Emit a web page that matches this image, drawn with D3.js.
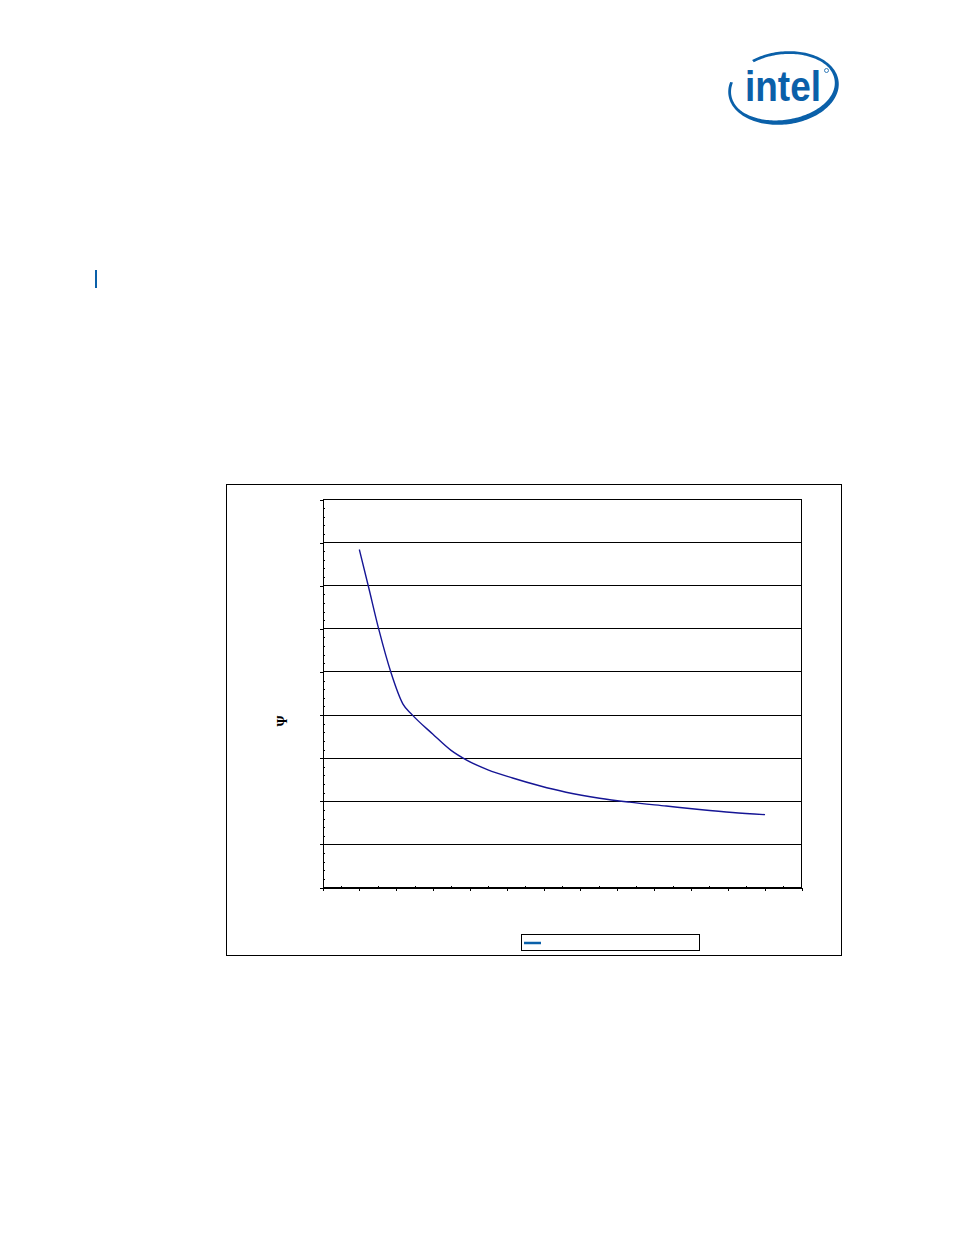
<!DOCTYPE html>
<html>
<head>
<meta charset="utf-8">
<script src="https://cdn.jsdelivr.net/npm/d3@7/dist/d3.min.js"></script>
<style>
  html, body { margin: 0; padding: 0; background: #ffffff; }
  svg { display: block; }
</style>
</head>
<body>
<svg id="page" width="954" height="1235"></svg>
<script>
// ---- data ----
const airflow = [1.00, 1.25, 1.53, 1.86, 2.18, 2.43, 2.99, 3.49, 3.90, 4.49, 5.16, 5.89, 6.61, 7.52, 8.33, 9.33, 10.23, 11.13, 12.01];
const psiValues = [0.784, 0.697, 0.598, 0.498, 0.426, 0.401, 0.356, 0.318, 0.296, 0.273, 0.254, 0.236, 0.221, 0.207, 0.198, 0.189, 0.181, 0.174, 0.169];
const xMajorTicks = [0,1,2,3,4,5,6,7,8,9,10,11,12,13];
const xMinorTicks = [0.5,1.5,2.5,3.5,4.5,5.5,6.5,7.5,8.5,9.5,10.5,11.5,12.5];
const yMajorTicks = [0,0.1,0.2,0.3,0.4,0.5,0.6,0.7,0.8,0.9];
const yMinorTicks = [0.02,0.04,0.06,0.08,0.12,0.14,0.16,0.18,0.22,0.24,0.26,0.28,0.32,0.34,0.36,0.38,0.42,0.44,0.46,0.48,0.52,0.54,0.56,0.58,0.62,0.64,0.66,0.68,0.72,0.74,0.76,0.78,0.82,0.84,0.86,0.88];
const yAxisTitle = "Ψ";

const svg = d3.select("#page");
const BLUE = "#0a60a9";

// ---- Intel logo ----
(function logo() {
  const g = svg.append("g").attr("transform", "rotate(-7 783.5 88)");
  const cx = 783.5, cy = 88;
  const a0 = 240, a1 = 560;
  const pts = [];
  for (let a = a0; a <= a1; a += 2) {
    const t = a * Math.PI / 180;
    pts.push([cx + 55.5 * Math.cos(t), cy + 36.5 * Math.sin(t)]);
  }
  const inner = [];
  for (let a = a1; a >= a0; a -= 2) {
    const t = a * Math.PI / 180;
    const th = 2.8 + 2.2 * Math.max(0, Math.sin(t + 0.5));
    inner.push([cx + (55.5 - th) * Math.cos(t), cy + (36.5 - th) * Math.sin(t)]);
  }
  g.append("path")
    .attr("d", d3.line()(pts.concat(inner)) + "Z")
    .attr("fill", BLUE);
  svg.append("text")
    .attr("x", 745).attr("y", 101)
    .attr("textLength", 76).attr("lengthAdjust", "spacingAndGlyphs")
    .attr("font-family", "'Liberation Sans', Arial, sans-serif")
    .attr("font-weight", "bold").attr("font-size", 42)
    .attr("fill", BLUE).text("intel");
  svg.append("circle").attr("cx", 826.5).attr("cy", 70.5).attr("r", 2)
    .attr("fill", "none").attr("stroke", BLUE).attr("stroke-width", 0.8);
})();

// ---- small blue margin bar ----
svg.append("rect").attr("x", 95).attr("y", 270).attr("width", 2).attr("height", 18).attr("fill", BLUE);

// ---- chart frame ----
svg.append("rect")
  .attr("x", 226.5).attr("y", 484.5).attr("width", 615).attr("height", 471)
  .attr("fill", "#fff").attr("stroke", "#000").attr("stroke-width", 1)
  .attr("shape-rendering", "crispEdges");

const x = d3.scaleLinear().domain([0, 13]).range([322.5, 801.5]);
const y = d3.scaleLinear().domain([0, 0.9]).range([887.5, 499.5]);

const plot = svg.append("g");

// gridlines
plot.selectAll("line.grid").data(yMajorTicks).join("line")
  .attr("class", "grid")
  .attr("x1", x(0)).attr("x2", x(13))
  .attr("y1", d => y(d)).attr("y2", d => y(d))
  .attr("stroke", "#000").attr("stroke-width", 1)
  .attr("shape-rendering", "crispEdges");

// plot border (right side)
plot.append("line")
  .attr("x1", x(13)).attr("x2", x(13)).attr("y1", y(0.9)).attr("y2", y(0))
  .attr("stroke", "#000").attr("shape-rendering", "crispEdges");

function styleAxis(g, removeDomain) {
  g.selectAll("line").attr("stroke", "#000").attr("shape-rendering", "crispEdges");
  g.selectAll("text").remove();
  if (removeDomain) g.select(".domain").remove();
  else g.select(".domain").attr("stroke", "#000").attr("shape-rendering", "crispEdges");
}

// y axis: major ticks outward, minor ticks inward
svg.append("g").attr("transform", `translate(${x(0)},0)`)
  .call(d3.axisLeft(y).tickValues(yMajorTicks).tickSize(3).tickSizeOuter(0).tickFormat(""))
  .call(g => styleAxis(g, false));
svg.append("g").attr("transform", `translate(${x(0)},0)`)
  .call(d3.axisRight(y).tickValues(yMinorTicks).tickSize(2).tickSizeOuter(0).tickFormat(""))
  .call(g => styleAxis(g, true));

// x axis: major ticks outward (down), minor ticks inward (up)
svg.append("g").attr("transform", `translate(0,${y(0)})`)
  .call(d3.axisBottom(x).tickValues(xMajorTicks).tickSize(3).tickSizeOuter(0).tickFormat(""))
  .call(g => styleAxis(g, false));
svg.append("g").attr("transform", `translate(0,${y(0)})`)
  .call(d3.axisTop(x).tickValues(xMinorTicks).tickSize(2).tickSizeOuter(0).tickFormat(""))
  .call(g => styleAxis(g, true));

// y axis title
svg.append("text")
  .attr("transform", "translate(287,721) rotate(-90)")
  .attr("text-anchor", "middle")
  .attr("font-family", "'Liberation Serif', 'DejaVu Serif', serif")
  .attr("font-weight", "bold").attr("font-size", 14)
  .attr("fill", "#000").text(yAxisTitle);

// curve
const series = airflow.map((d, i) => ({ x: d, y: psiValues[i] }));
svg.append("path")
  .datum(series)
  .attr("d", d3.line().x(d => x(d.x)).y(d => y(d.y)).curve(d3.curveMonotoneX))
  .attr("fill", "none").attr("stroke", "#151595").attr("stroke-width", 1.4);

// legend
const lg = svg.append("g");
lg.append("rect").attr("x", 521.5).attr("y", 934.5).attr("width", 178).attr("height", 16)
  .attr("fill", "#fff").attr("stroke", "#000").attr("shape-rendering", "crispEdges");
lg.append("line").attr("x1", 524).attr("x2", 541).attr("y1", 943).attr("y2", 943)
  .attr("stroke", BLUE).attr("stroke-width", 2.5);
</script>
</body>
</html>
